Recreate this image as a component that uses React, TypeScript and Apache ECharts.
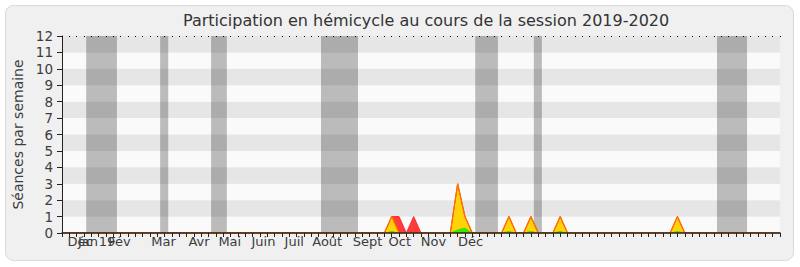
import React, { useEffect, useRef } from "react";
import * as echarts from "echarts";

const titleText = "Participation en hémicycle au cours de la session 2019-2020";
const yAxisName = "Séances par semaine";

// x-axis month labels and their positions (in weeks)
const monthLabels = ["Déc", "Jan", "19", "Fév", "Mar", "Avr", "Mai", "Juin", "Juil", "Août", "Sept", "Oct", "Nov", "Déc"];
const monthWeeks = [2.46, 3.55, 6.14, 7.85, 13.85, 18.7, 22.9, 27.5, 31.7, 36.2, 41.7, 46.1, 50.7, 55.75];

// holiday bands (start week, end week)
const holidays = [
  [3.3, 7.5],
  [13.4, 14.5],
  [20.35, 22.5],
  [35.35, 40.4],
  [56.4, 59.5],
  [64.4, 65.5],
  [89.4, 93.5],
];

// weekly values, week 0 .. 98
const seances = [
  0, 0, 0, 0, 0, 0, 0, 0, 0, 0,
  0, 0, 0, 0, 0, 0, 0, 0, 0, 0,
  0, 0, 0, 0, 0, 0, 0, 0, 0, 0,
  0, 0, 0, 0, 0, 0, 0, 0, 0, 0,
  0, 0, 0, 0, 0, 1, 1, 0, 1, 0,
  0, 0, 0, 0, 3, 1, 0, 0, 0, 0,
  0, 1, 0, 0, 1, 0, 0, 0, 1, 0,
  0, 0, 0, 0, 0, 0, 0, 0, 0, 0,
  0, 0, 0, 0, 1, 0, 0, 0, 0, 0,
  0, 0, 0, 0, 0, 0, 0, 0, 0,
];
const presences = [
  0, 0, 0, 0, 0, 0, 0, 0, 0, 0,
  0, 0, 0, 0, 0, 0, 0, 0, 0, 0,
  0, 0, 0, 0, 0, 0, 0, 0, 0, 0,
  0, 0, 0, 0, 0, 0, 0, 0, 0, 0,
  0, 0, 0, 0, 0, 1, 0, 0, 0, 0,
  0, 0, 0, 0, 3, 1, 0, 0, 0, 0,
  0, 1, 0, 0, 1, 0, 0, 0, 1, 0,
  0, 0, 0, 0, 0, 0, 0, 0, 0, 0,
  0, 0, 0, 0, 1, 0, 0, 0, 0, 0,
  0, 0, 0, 0, 0, 0, 0, 0, 0,
];
const interventions = [
  0, 0, 0, 0, 0, 0, 0, 0, 0, 0,
  0, 0, 0, 0, 0, 0, 0, 0, 0, 0,
  0, 0, 0, 0, 0, 0, 0, 0, 0, 0,
  0, 0, 0, 0, 0, 0, 0, 0, 0, 0,
  0, 0, 0, 0, 0, 0.1, 0, 0, 0, 0,
  0, 0, 0, 0, 0.2, 0.3, 0, 0, 0, 0,
  0, 0.1, 0, 0, 0.1, 0, 0, 0, 0.1, 0,
  0, 0, 0, 0, 0, 0, 0, 0, 0, 0,
  0, 0, 0, 0, 0.1, 0, 0, 0, 0, 0,
  0, 0, 0, 0, 0, 0, 0, 0, 0,
];

const FONT = "DejaVu Sans";

export default function App() {
  const ref = useRef<HTMLDivElement>(null);
  useEffect(() => {
    if (!ref.current) return;
    const chart = echarts.init(ref.current, null, { renderer: "svg" });
    const lastWeek = seances.length - 1;
    const toPairs = (arr: number[]) => arr.map((v, i) => [i, v]);
    const evenWeeks = monthWeeks.filter((_, i) => i % 2 === 0);
    const oddWeeks = monthWeeks.filter((_, i) => i % 2 === 1);
    const labelFor = (v: number) => {
      const i = monthWeeks.indexOf(v);
      return i >= 0 ? monthLabels[i] : "";
    };
    const labelStyle = {
      margin: 2,
      fontFamily: FONT,
      fontSize: 13,
      color: "#3c3c3c",
      hideOverlap: false,
      showMinLabel: true,
      showMaxLabel: true,
      formatter: labelFor,
    };
    chart.setOption({
      animation: false,
      backgroundColor: "#ffffff",
      title: {
        text: titleText,
        left: 183,
        top: 12,
        padding: 0,
        textStyle: { fontFamily: FONT, fontSize: 16, fontWeight: "normal", color: "#333333" },
      },
      graphic: [
        {
          type: "rect",
          z: -100,
          shape: { x: 5.5, y: 5.5, width: 788, height: 255, r: 8 },
          style: { fill: "#f0f0f0", stroke: "#dadada", lineWidth: 1 },
        },
      ],
      grid: { left: 62, right: 20, top: 36, bottom: 34, containLabel: false },
      xAxis: [
        {
          type: "value",
          min: 0,
          max: lastWeek,
          interval: 1,
          z: 10,
          splitLine: { show: false },
          axisLine: { show: true, lineStyle: { color: "#3a1e14", width: 1.5 } },
          axisTick: { show: true, length: 4, lineStyle: { color: "#222222" } },
          axisLabel: { ...labelStyle, customValues: evenWeeks },
        },
        {
          type: "value",
          position: "bottom",
          min: 0,
          max: lastWeek,
          interval: 1,
          splitLine: { show: false },
          axisLine: { show: false },
          axisTick: { show: false },
          axisLabel: { ...labelStyle, customValues: oddWeeks },
        },
        {
          type: "value",
          position: "top",
          min: 0,
          max: lastWeek,
          interval: 1,
          splitLine: { show: false },
          axisLine: { show: false },
          axisTick: { show: true, inside: true, length: 1, lineStyle: { color: "#000000" } },
          axisLabel: { show: false },
        },
      ],
      yAxis: {
        type: "value",
        min: 0,
        max: 12,
        interval: 1,
        name: yAxisName,
        nameLocation: "middle",
        nameGap: 36,
        nameTextStyle: { fontFamily: FONT, fontSize: 14, color: "#3c3c3c" },
        axisLine: { show: true, lineStyle: { color: "#222222" } },
        axisTick: { show: true, length: 5, lineStyle: { color: "#222222" } },
        axisLabel: { fontFamily: FONT, fontSize: 13.5, color: "#3c3c3c", margin: 9 },
        splitLine: { show: false },
        splitArea: { show: true, areaStyle: { color: ["#fafafa", "#e6e6e6"] } },
      },
      series: [
        {
          type: "line",
          name: "Séances",
          data: toPairs(seances),
          symbol: "none",
          lineStyle: { width: 1, color: "#ff2a2a" },
          areaStyle: { color: "#ff3c3c", opacity: 1 },
          markArea: {
            silent: true,
            itemStyle: { color: "rgba(0,0,0,0.25)" },
            data: holidays.map((h) => [{ xAxis: h[0] }, { xAxis: h[1] }]),
          },
        },
        {
          type: "line",
          name: "Présences",
          data: toPairs(presences),
          symbol: "none",
          lineStyle: { width: 1.2, color: "#ff7000" },
          areaStyle: { color: "#ffd20a", opacity: 1 },
        },
        {
          type: "line",
          name: "Interventions",
          data: toPairs(interventions),
          symbol: "none",
          lineStyle: { width: 0.5, color: "#22dd00" },
          areaStyle: { color: "#33ee00", opacity: 1 },
        },
      ],
    });
    return () => chart.dispose();
  }, []);
  return (
    <div
      ref={ref}
      style={{ position: "absolute", left: 0, top: 0, width: 800, height: 267 }}
    />
  );
}
